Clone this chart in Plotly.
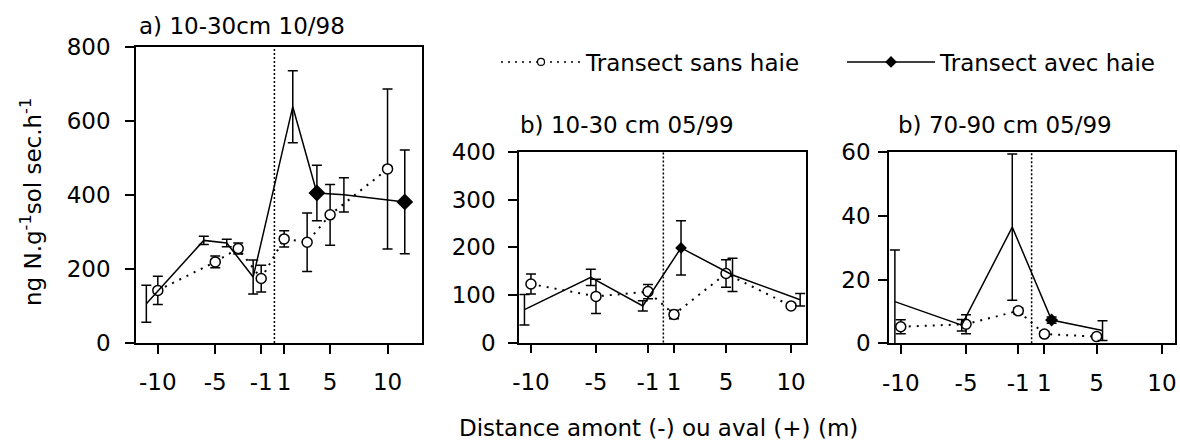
import plotly.graph_objects as go

# ---------------- data ----------------
tick_vals = [-10, -5, -1, 1, 5, 10]
tick_text = ["-10", "-5", "-1", "1", "5", "10"]

# a) 10-30cm 10/98
a_sans_x = [-10, -5, -3, -1, 1, 3, 5, 10]
a_sans_y = [142, 219, 255, 174, 281, 272, 346, 470]
a_sans_err = [38, 16, 15, 36, 22, 79, 82, 216]
a_avec_x = [-11, -6, -4, -1.7, 1.75, 3.85, 6.2, 11.5]
a_avec_y = [106, 277, 270, 178, 638, 405, 400, 381]
a_avec_err = [50, 11, 10, 46, 97, 75, 46, 140]
a_avec_marked = [0, 0, 0, 0, 0, 1, 0, 1]

# b) 10-30 cm 05/99
b_sans_x = [-10, -5, -1, 1, 5, 10]
b_sans_y = [123, 97, 107, 59, 145, 77]
b_sans_err = [21, 36, 15, 9, 29, 3]
b_avec_x = [-10.5, -5.4, -1.4, 1.54, 5.5, 10.7]
b_avec_y = [69, 137, 77, 199, 142, 90]
b_avec_err = [32, 17, 11, 57, 35, 13]
b_avec_marked = [0, 0, 0, 1, 0, 0]

# b) 70-90 cm 05/99
c_sans_x = [-10, -5, -1, 1, 5]
c_sans_y = [5.2, 6.0, 10.2, 2.9, 2.1]
c_sans_err = [2.2, 3.0, 1.0, 0.8, 0.6]
c_avec_x = [-10.45, -5.33, -1.46, 1.55, 5.45]
c_avec_y = [13.1, 5.7, 36.5, 7.3, 4.0]
c_avec_err = [16.2, 1.8, 23, 1.0, 3.1]
c_avec_marked = [0, 0, 0, 1, 0]

titles = ["a) 10-30cm 10/98", "b) 10-30 cm 05/99", "b) 70-90 cm 05/99"]
legend_names = ["Transect sans haie", "Transect avec haie"]
x_title = "Distance amont (-) ou aval (+) (m)"
y_title = "ng N.g<sup>-1</sup>sol sec.h<sup>-1</sup>"

# ---------------- layout helpers ----------------
W, H = 1180, 445
FONT = "DejaVu Sans"
FS = 23


def px(x):
    return x / W


def py(y):
    return 1 - y / H


panels = [
    dict(sx=a_sans_x, sy=a_sans_y, se=a_sans_err, ax=a_avec_x, ay=a_avec_y, ae=a_avec_err,
         mk=a_avec_marked, dsize=13, xdom=(136, 422), ydom=(343, 46.7), xr=(-11.9, 13.0),
         yr=(0, 800), dt=200, title_pos=(137, 26), hedge=0.15, standoff=10),
    dict(sx=b_sans_x, sy=b_sans_y, se=b_sans_err, ax=b_avec_x, ay=b_avec_y, ae=b_avec_err,
         mk=b_avec_marked, dsize=9, xdom=(519, 806), ydom=(342.5, 152.3), xr=(-10.92, 11.15),
         yr=(0, 400), dt=100, title_pos=(518, 125), hedge=0.18, standoff=8),
    dict(sx=c_sans_x, sy=c_sans_y, se=c_sans_err, ax=c_avec_x, ay=c_avec_y, ae=c_avec_err,
         mk=c_avec_marked, dsize=10, xdom=(889, 1175), ydom=(343.3, 152.3), xr=(-10.9, 11.0),
         yr=(0, 60), dt=20, title_pos=(896, 125), hedge=0.02, standoff=3),
]

fig = go.Figure()
layout = dict(
    width=W, height=H, autosize=False,
    margin=dict(l=0, r=0, t=0, b=0, autoexpand=False),
    paper_bgcolor="white", plot_bgcolor="white",
    font=dict(family=FONT, size=FS, color="black"),
    showlegend=True,
)
shapes = []
annotations = []

for i, p in enumerate(panels):
    n = "" if i == 0 else str(i + 1)
    xa, ya = "x" + n, "y" + n
    # sans haie
    fig.add_trace(go.Scatter(
        x=p["sx"], y=p["sy"], xaxis=xa, yaxis=ya, mode="lines+markers",
        line=dict(color="black", width=2, dash="2px,6px"),
        marker=dict(symbol="circle", size=10, color="white", line=dict(color="black", width=1.5)),
        error_y=dict(type="data", array=p["se"], symmetric=True, color="black", thickness=1.5, width=5),
        showlegend=False, cliponaxis=True,
    ))
    # avec haie
    fig.add_trace(go.Scatter(
        x=p["ax"], y=p["ay"], xaxis=xa, yaxis=ya, mode="lines+markers",
        line=dict(color="black", width=1.5),
        marker=dict(symbol="diamond", size=[p["dsize"] if m else 0 for m in p["mk"]],
                    color="black", opacity=1, line=dict(width=0)),
        error_y=dict(type="data", array=p["ae"], symmetric=True, color="black", thickness=1.5, width=5),
        showlegend=False, cliponaxis=True,
    ))
    layout["xaxis" + n] = dict(
        domain=[px(p["xdom"][0]), px(p["xdom"][1])], range=list(p["xr"]), anchor=ya,
        tickmode="array", tickvals=tick_vals, ticktext=tick_text,
        ticks="outside", ticklen=9, tickwidth=1.5, tickcolor="black",
        showline=True, linecolor="black", linewidth=1.5, mirror=True,
        showgrid=False, zeroline=False, ticklabelstandoff=9, automargin=False,
        tickfont=dict(family=FONT, size=FS, color="black"),
    )
    layout["yaxis" + n] = dict(
        domain=[py(p["ydom"][0]), py(p["ydom"][1])], range=list(p["yr"]), anchor=xa,
        tick0=0, dtick=p["dt"],
        ticks="outside", ticklen=9, tickwidth=1.5, tickcolor="black",
        showline=True, linecolor="black", linewidth=1.5, mirror=True,
        showgrid=False, zeroline=False, ticklabelstandoff=p["standoff"], automargin=False,
        tickfont=dict(family=FONT, size=FS, color="black"),
    )
    shapes.append(dict(
        type="line", xref=xa, yref=ya + " domain", x0=p["hedge"], x1=p["hedge"], y0=0, y1=1,
        line=dict(color="black", width=1.5, dash="2px,2px"),
    ))
    annotations.append(dict(
        text=titles[i], xref="paper", yref="paper", x=px(p["title_pos"][0]), y=py(p["title_pos"][1]),
        xanchor="left", yanchor="middle", showarrow=False,
        font=dict(family=FONT, size=FS, color="black"),
    ))

# legend entries (one legend box per entry)
fig.add_trace(go.Scatter(
    x=[None], y=[None], mode="lines+markers", name=legend_names[0], legend="legend",
    line=dict(color="black", width=1.5, dash="2px,5px"),
    marker=dict(symbol="circle", size=7, color="white", line=dict(color="black", width=1.2)),
))
fig.add_trace(go.Scatter(
    x=[None], y=[None], mode="lines+markers", name=legend_names[1], legend="legend2",
    line=dict(color="black", width=1.5),
    marker=dict(symbol="diamond", size=9, color="black"),
))

annotations.append(dict(
    text=x_title, xref="paper", yref="paper", x=px(658), y=py(428),
    xanchor="center", yanchor="middle", showarrow=False,
    font=dict(family=FONT, size=FS, color="black"),
))
annotations.append(dict(
    text=y_title, xref="paper", yref="paper", x=px(31), y=py(202),
    xanchor="center", yanchor="middle", textangle=-90, showarrow=False,
    font=dict(family=FONT, size=FS, color="black"),
))

layout["shapes"] = shapes
layout["annotations"] = annotations
layout["legend"] = dict(
    orientation="h", x=px(496), y=py(62), xanchor="left", yanchor="middle",
    itemwidth=80, bgcolor="rgba(0,0,0,0)", borderwidth=0,
    font=dict(family=FONT, size=FS, color="black"),
)
layout["legend2"] = dict(
    orientation="h", x=px(842), y=py(62), xanchor="left", yanchor="middle",
    itemwidth=88, bgcolor="rgba(0,0,0,0)", borderwidth=0,
    font=dict(family=FONT, size=FS, color="black"),
)
fig.update_layout(**layout)
fig.write_html("out.html", config={"displayModeBar": False},
               post_script="document.body.style.margin='0px';")
